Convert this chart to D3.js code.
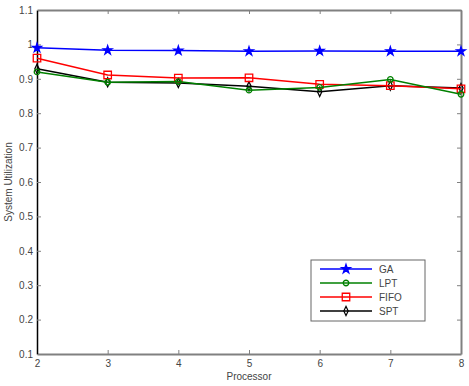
<!DOCTYPE html>
<html>
<head>
<meta charset="utf-8">
<script src="https://cdn.jsdelivr.net/npm/d3@7"></script>
<style>
  body { margin: 0; background: #fff; }
  text { font-family: "Liberation Sans", Arial, sans-serif; }
</style>
</head>
<body>
<svg></svg>
<script>
//SET UP THE CANVAS
var w = 469;
var h = 386;
var margin = {left: 37, right: 8, top: 10, bottom: 32};

//DATA
var processors = [2, 3, 4, 5, 6, 7, 8];
var gaValues   = [0.990, 0.983, 0.982, 0.980, 0.981, 0.980, 0.980];
var lptValues  = [0.920, 0.890, 0.892, 0.867, 0.875, 0.898, 0.855];
var fifoValues = [0.960, 0.911, 0.902, 0.903, 0.884, 0.880, 0.871];
var sptValues  = [0.929, 0.890, 0.888, 0.878, 0.862, 0.880, 0.873];
var seriesNames = ["GA", "LPT", "FIFO", "SPT"];
var yTicks = [0.1, 0.2, 0.3, 0.4, 0.5, 0.6, 0.7, 0.8, 0.9, 1, 1.1];

var series = [
  {name: "GA",   values: gaValues,   color: "#0000ff", marker: "star"},
  {name: "LPT",  values: lptValues,  color: "#008000", marker: "circle"},
  {name: "FIFO", values: fifoValues, color: "#ff0000", marker: "square"},
  {name: "SPT",  values: sptValues,  color: "#000000", marker: "diamond"}
];

var svg = d3.select("svg")
  .attr("width", w)
  .attr("height", h);

var x = d3.scaleLinear()
  .domain([2, 8])
  .range([margin.left, w - margin.right]);
var y = d3.scaleLinear()
  .domain([0.1, 1.1])
  .range([h - margin.bottom, margin.top]);

var axisGray = "#808080";
var labelColor = "#444";

//AXES (ticks point inward)
var bottomAxis = svg.append("g")
  .attr("transform", "translate(0," + (h - margin.bottom) + ")")
  .call(d3.axisBottom(x).tickValues(processors).tickFormat(d3.format("d")).tickSizeInner(-4).tickSizeOuter(0).tickPadding(6));
var topAxis = svg.append("g")
  .attr("transform", "translate(0," + margin.top + ")")
  .call(d3.axisTop(x).tickValues(processors).tickFormat("").tickSizeInner(-4).tickSizeOuter(0));
var leftAxis = svg.append("g")
  .attr("transform", "translate(" + margin.left + ",0)")
  .call(d3.axisLeft(y).tickValues(yTicks).tickFormat(function (d) { return d3.format("")(+d.toFixed(1)); }).tickSizeInner(-4).tickSizeOuter(0).tickPadding(4));
var rightAxis = svg.append("g")
  .attr("transform", "translate(" + (w - margin.right) + ",0)")
  .call(d3.axisRight(y).tickValues(yTicks).tickFormat("").tickSizeInner(-4).tickSizeOuter(0));

[bottomAxis, topAxis, rightAxis].forEach(function (g) {
  g.select(".domain").attr("stroke", axisGray).attr("stroke-width", 2);
  g.selectAll(".tick line").attr("stroke", axisGray);
});
leftAxis.select(".domain").attr("stroke", "#000").attr("stroke-width", 1.5);
leftAxis.selectAll(".tick line").attr("stroke", axisGray);

svg.selectAll(".tick text")
  .attr("fill", labelColor)
  .style("font-size", "10px")
  .style("font-family", "'Liberation Sans', Arial, sans-serif");

//AXIS LABELS
svg.append("text")
  .attr("x", (margin.left + w - margin.right) / 2)
  .attr("y", h - 6)
  .attr("text-anchor", "middle")
  .attr("fill", labelColor)
  .style("font-size", "10px")
  .text("Processor");
svg.append("text")
  .attr("transform", "translate(12," + 182 + ") rotate(-90)")
  .attr("text-anchor", "middle")
  .attr("fill", labelColor)
  .style("font-size", "10px")
  .text("System Utilization");

//MARKERS
var symbolFor = {
  star: d3.symbol().type(d3.symbolStar).size(24),
  circle: d3.symbol().type(d3.symbolCircle).size(24),
  square: d3.symbol().type(d3.symbolSquare).size(56),
  diamond: d3.symbol().type(d3.symbolDiamond).size(20)
};

function drawMarker(g, s, cx, cy) {
  var p = g.append("path")
    .attr("d", symbolFor[s.marker]())
    .attr("transform", "translate(" + cx + "," + cy + ")" + (s.marker === "diamond" ? " scale(0.9,1.1)" : ""))
    .attr("stroke", s.color)
    .attr("stroke-width", 1.3);
  if (s.marker === "star") p.attr("fill", s.color);
  else p.attr("fill", "none");
}

//LINES
var lineMaker = d3.line()
  .x(function (d, i) { return x(processors[i]); })
  .y(function (d) { return y(d); });

var plot = svg.append("g");
series.slice().reverse().forEach(function (s) {
  plot.append("path")
    .attr("d", lineMaker(s.values))
    .attr("fill", "none")
    .attr("stroke", s.color)
    .attr("stroke-width", 1.5);
  s.values.forEach(function (v, i) {
    drawMarker(plot, s, x(processors[i]), y(v));
  });
});

//LEGEND
var legend = svg.append("g");
legend.append("rect")
  .attr("x", 311).attr("y", 260)
  .attr("width", 114).attr("height", 61)
  .attr("fill", "#fff")
  .attr("stroke", "#666")
  .attr("stroke-width", 1);
series.forEach(function (s, i) {
  var ly = 269 + i * 14;
  legend.append("line")
    .attr("x1", 320).attr("x2", 372)
    .attr("y1", ly).attr("y2", ly)
    .attr("stroke", s.color)
    .attr("stroke-width", 1.5);
  drawMarker(legend, s, 346, ly);
  legend.append("text")
    .attr("x", 379).attr("y", ly)
    .attr("dy", "0.35em")
    .attr("fill", labelColor)
    .style("font-size", "10px")
    .text(seriesNames[i]);
});
</script>
</body>
</html>
